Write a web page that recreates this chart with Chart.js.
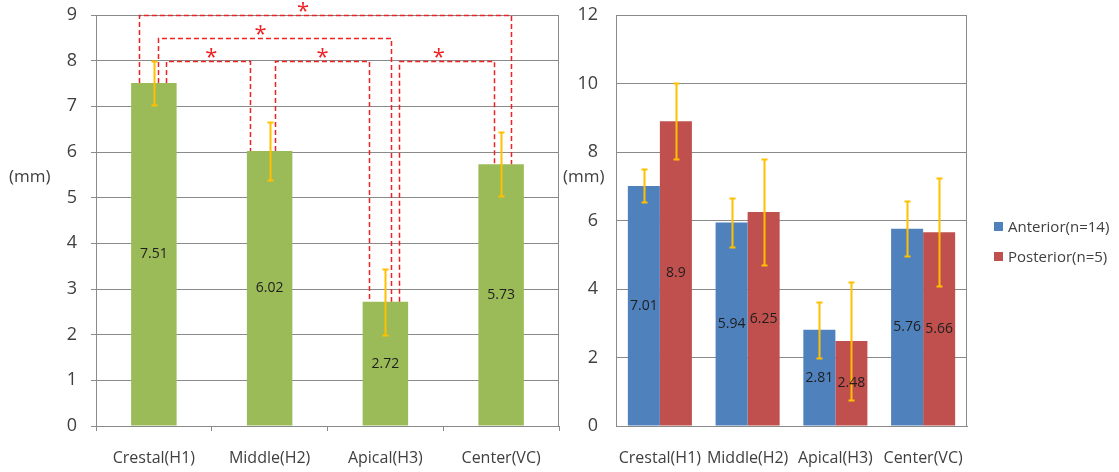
<!DOCTYPE html>
<html>
<head>
<meta charset="utf-8">
<script src="https://cdn.jsdelivr.net/npm/chart.js@4/dist/chart.umd.min.js"></script>
<style>
  html, body { margin: 0; padding: 0; background: #ffffff; }
  #wrap { position: relative; width: 1119px; height: 472px; overflow: hidden; }
  canvas { position: absolute; top: 0; }
  #overall { left: 0; }
  #byRegion { left: 560px; }
</style>
</head>
<body>
<div id="wrap">
  <canvas id="overall" width="560" height="472"></canvas>
  <canvas id="byRegion" width="559" height="472"></canvas>
</div>
<script>
// ---- data ----
const categories = ['Crestal(H1)', 'Middle(H2)', 'Apical(H3)', 'Center(VC)'];

const overallMean = [7.51, 6.02, 2.72, 5.73];
const overallSD   = [0.49, 0.64, 0.72, 0.70];

const seriesNames   = ['Anterior(n=14)', 'Posterior(n=5)'];
const anteriorMean  = [7.01, 5.94, 2.81, 5.76];
const anteriorSD    = [0.48, 0.71, 0.82, 0.80];
const posteriorMean = [8.9, 6.25, 2.48, 5.66];
const posteriorSD   = [1.11, 1.54, 1.72, 1.58];

const leftTicks  = [0, 1, 2, 3, 4, 5, 6, 7, 8, 9];
const rightTicks = [0, 2, 4, 6, 8, 10, 12];

// significant pairwise differences: category indices and bracket height (mm)
const sigFrom  = [0, 0, 0, 1, 2];
const sigTo    = [3, 2, 1, 2, 3];
const sigLevel = [9, 8.5, 8, 8, 8];
const sigMark  = ['*', '*', '*', '*', '*'];

// ---- styling ----
const FONT = "'Open Sans', 'DejaVu Sans', sans-serif";
const GRID = '#8a8a8a';
const TEXT = '#404040';
const ERR  = '#FFC000';
const SIG  = 'rgb(238,34,34)';

// bracket leg offsets as a fraction of one category width, and star placement along the bracket
const legShift  = [[-0.126, 0.089], [0.035, 0.048], [0.105, -0.169], [0.043, -0.145], [0.12, -0.065]];
const starAlong = [0.44, 0.44, 0.54, 0.51, 0.42];

// ---- plugins ----
const errorBars = {
  id: 'errorBars',
  afterDatasetsDraw(chart) {
    const ctx = chart.ctx;
    const y = chart.scales.y;
    ctx.save();
    ctx.strokeStyle = ERR;
    ctx.lineWidth = 2;
    chart.data.datasets.forEach((ds, di) => {
      const meta = chart.getDatasetMeta(di);
      meta.data.forEach((bar, i) => {
        const v = ds.data[i], sd = ds.sd[i];
        const yt = Math.round(y.getPixelForValue(v + sd)) + 0.5;
        const yb = Math.round(y.getPixelForValue(v - sd)) + 0.5;
        const x = Math.round(bar.x) + 0.5;
        ctx.beginPath();
        ctx.moveTo(x, yt); ctx.lineTo(x, yb);
        ctx.moveTo(x - 3, yt); ctx.lineTo(x + 3, yt);
        ctx.moveTo(x - 3, yb); ctx.lineTo(x + 3, yb);
        ctx.stroke();
      });
    });
    ctx.restore();
  }
};

const valueLabels = {
  id: 'valueLabels',
  afterDatasetsDraw(chart) {
    const ctx = chart.ctx;
    ctx.save();
    ctx.font = '14px ' + FONT;
    ctx.fillStyle = '#1e1e1e';
    ctx.textAlign = 'center';
    ctx.textBaseline = 'middle';
    chart.data.datasets.forEach((ds, di) => {
      chart.getDatasetMeta(di).data.forEach((bar, i) => {
        ctx.fillText(String(ds.data[i]), bar.x, (bar.y + bar.base) / 2);
      });
    });
    ctx.restore();
  }
};

const rightFrame = {
  id: 'rightFrame',
  beforeDatasetsDraw(chart) {
    const a = chart.chartArea, ctx = chart.ctx;
    ctx.save();
    ctx.strokeStyle = GRID;
    ctx.lineWidth = 1;
    const x = Math.round(a.right) - 0.5;
    ctx.beginPath();
    ctx.moveTo(x, a.top); ctx.lineTo(x, a.bottom);
    ctx.stroke();
    ctx.restore();
  }
};

function unitLabel(x, y) {
  return {
    id: 'unitLabel',
    afterDraw(chart) {
      const ctx = chart.ctx;
      ctx.save();
      ctx.font = '17px ' + FONT;
      ctx.fillStyle = TEXT;
      ctx.textAlign = 'left';
      ctx.textBaseline = 'middle';
      ctx.fillText('(mm)', x, y);
      ctx.restore();
    }
  };
}

const sigBrackets = {
  id: 'sigBrackets',
  afterDraw(chart) {
    const ctx = chart.ctx;
    const xs = chart.scales.x, ys = chart.scales.y;
    const bars = chart.data.datasets[0].data;
    const cw = xs.width / categories.length;
    ctx.save();
    ctx.strokeStyle = SIG;
    ctx.lineWidth = 1.5;
    ctx.setLineDash([5, 3]);
    sigFrom.forEach((from, k) => {
      const to = sigTo[k];
      const x1 = Math.round(xs.getPixelForValue(from) + legShift[k][0] * cw) + 0.5;
      const x2 = Math.round(xs.getPixelForValue(to) + legShift[k][1] * cw) + 0.5;
      const yTop = Math.round(ys.getPixelForValue(sigLevel[k])) + 0.5;
      const y1 = ys.getPixelForValue(bars[from]);
      const y2 = ys.getPixelForValue(bars[to]);
      ctx.beginPath();
      ctx.moveTo(x1, y1); ctx.lineTo(x1, yTop); ctx.lineTo(x2, yTop); ctx.lineTo(x2, y2);
      ctx.stroke();
    });
    ctx.setLineDash([]);
    ctx.fillStyle = SIG;
    ctx.font = '22px ' + FONT;
    ctx.textAlign = 'center';
    ctx.textBaseline = 'alphabetic';
    sigFrom.forEach((from, k) => {
      const x1 = xs.getPixelForValue(from) + legShift[k][0] * cw;
      const x2 = xs.getPixelForValue(sigTo[k]) + legShift[k][1] * cw;
      const yTop = ys.getPixelForValue(sigLevel[k]);
      ctx.fillText(sigMark[k], x1 + (x2 - x1) * starAlong[k], yTop + 3);
    });
    ctx.restore();
  }
};

const sideLegend = {
  id: 'sideLegend',
  afterDraw(chart) {
    const ctx = chart.ctx;
    const x0 = chart.chartArea.right + 27;
    ctx.save();
    ctx.font = '15px ' + FONT;
    ctx.textAlign = 'left';
    ctx.textBaseline = 'middle';
    chart.data.datasets.forEach((ds, i) => {
      const yc = 228 + i * 30;
      ctx.fillStyle = ds.backgroundColor;
      ctx.fillRect(x0, yc - 6, 9, 9);
      ctx.fillStyle = TEXT;
      ctx.fillText(ds.label, x0 + 14, yc);
    });
    ctx.restore();
  }
};

// ---- shared axis builders ----
function yAxis(max, tickList, axisWidth, withTicks, pad) {
  return {
    min: 0, max: max,
    afterBuildTicks: s => { s.ticks = tickList.map(v => ({ value: v })); },
    afterFit: s => { s.width = axisWidth; s.paddingTop = 0; s.paddingBottom = 0; },
    grid: { color: GRID, lineWidth: 1, drawTicks: withTicks, tickLength: 5, tickColor: GRID },
    border: { color: GRID, width: 1 },
    ticks: { color: TEXT, font: { family: FONT, size: 18 }, padding: pad }
  };
}
function xAxis(withTicks, pad) {
  return {
    afterFit: s => { s.height = 46; },
    grid: { offset: true, drawOnChartArea: false, drawTicks: withTicks, tickLength: 5, tickColor: GRID },
    border: { color: GRID, width: 1 },
    ticks: { color: TEXT, font: { family: FONT, size: 16 }, padding: pad, maxRotation: 0, autoSkip: false }
  };
}

// ---- overall chart ----
new Chart(document.getElementById('overall'), {
  type: 'bar',
  data: {
    labels: categories,
    datasets: [{
      label: 'Overall',
      data: overallMean,
      sd: overallSD,
      backgroundColor: '#9BBB59',
      borderWidth: 0,
      categoryPercentage: 0.393,
      barPercentage: 1
    }]
  },
  options: {
    responsive: false,
    animation: false,
    devicePixelRatio: 1,
    layout: { padding: { top: 15, right: 1, left: 0, bottom: 0 } },
    plugins: { legend: { display: false }, tooltip: { enabled: false } },
    scales: {
      x: xAxis(true, 18),
      y: yAxis(9, leftTicks, 96, true, 14)
    }
  },
  plugins: [rightFrame, errorBars, valueLabels, sigBrackets, unitLabel(9, 177)]
});

// ---- anterior vs posterior chart ----
new Chart(document.getElementById('byRegion'), {
  type: 'bar',
  data: {
    labels: categories,
    datasets: [
      { label: seriesNames[0], data: anteriorMean, sd: anteriorSD, backgroundColor: '#4F81BD', borderWidth: 0, categoryPercentage: 0.73, barPercentage: 1 },
      { label: seriesNames[1], data: posteriorMean, sd: posteriorSD, backgroundColor: '#C0504D', borderWidth: 0, categoryPercentage: 0.73, barPercentage: 1 }
    ]
  },
  options: {
    responsive: false,
    animation: false,
    devicePixelRatio: 1,
    layout: { padding: { top: 15, right: 152, left: 0, bottom: 0 } },
    plugins: { legend: { display: false }, tooltip: { enabled: false } },
    scales: {
      x: xAxis(false, 23),
      y: yAxis(12, rightTicks, 56, false, 18)
    }
  },
  plugins: [rightFrame, errorBars, valueLabels, sideLegend, unitLabel(3, 177)]
});
</script>
</body>
</html>
